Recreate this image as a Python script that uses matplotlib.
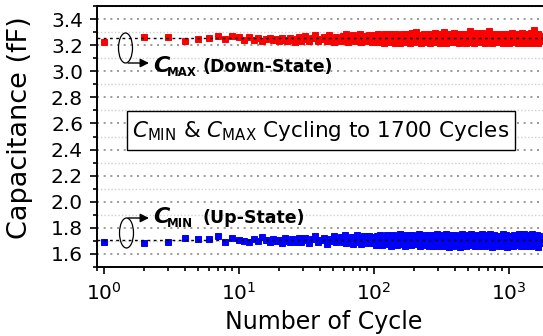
import numpy as np
import matplotlib
matplotlib.use("Agg")
import matplotlib.pyplot as plt
from matplotlib.patches import Ellipse, Rectangle
from matplotlib.ticker import MultipleLocator, FormatStrFormatter

plt.rcParams["font.family"] = ["DejaVu Sans"]
plt.rcParams["mathtext.fontset"] = "dejavusans"

# Cycle numbers at which capacitance was recorded
cycles = (list(range(1, 31)) + list(range(31, 100, 2))
          + list(range(100, 200, 2)) + list(range(200, 400, 4))
          + list(range(400, 800, 8)) + list(range(800, 1701, 15)))

# C_MAX (down-state) capacitance, fF
c_max = [
    # cycles 1-30
    3.222, 3.259, 3.264, 3.233, 3.246, 3.254, 3.267, 3.246, 3.269, 3.264,
    3.241, 3.262, 3.238, 3.251, 3.233, 3.247, 3.258, 3.236, 3.244, 3.229,
    3.253, 3.240, 3.231, 3.256, 3.237, 3.226, 3.249, 3.262, 3.234, 3.245,
    # cycles 31-99
    3.268, 3.231, 3.252, 3.274, 3.228, 3.247, 3.262, 3.235, 3.279, 3.243,
    3.226, 3.266, 3.252, 3.233, 3.271, 3.238, 3.282, 3.225, 3.258, 3.247,
    3.276, 3.229, 3.264, 3.241, 3.285, 3.222, 3.255, 3.270, 3.236, 3.261,
    3.229, 3.278, 3.249, 3.224, 3.267,
    # cycles 100-198
    3.232, 3.279, 3.251, 3.221, 3.286, 3.243, 3.264, 3.226, 3.273, 3.257,
    3.219, 3.282, 3.238, 3.268, 3.247, 3.224, 3.289, 3.255, 3.231, 3.276,
    3.244, 3.262, 3.220, 3.283, 3.249, 3.235, 3.271, 3.258, 3.218, 3.280,
    3.241, 3.266, 3.228, 3.287, 3.252, 3.223, 3.274, 3.246, 3.261, 3.230,
    3.284, 3.239, 3.269, 3.217, 3.256, 3.278, 3.233, 3.291, 3.248, 3.225,
    # cycles 200-396
    3.236, 3.272, 3.298, 3.228, 3.259, 3.281, 3.217, 3.266, 3.245, 3.287,
    3.225, 3.254, 3.276, 3.232, 3.262, 3.216, 3.284, 3.248, 3.271, 3.229,
    3.258, 3.290, 3.222, 3.267, 3.241, 3.279, 3.235, 3.256, 3.219, 3.285,
    3.250, 3.227, 3.273, 3.303, 3.238, 3.263, 3.215, 3.282, 3.246, 3.269,
    3.231, 3.288, 3.253, 3.221, 3.277, 3.242, 3.260, 3.226, 3.292, 3.249,
    # cycles 400-792
    3.279, 3.226, 3.255, 3.288, 3.218, 3.264, 3.242, 3.283, 3.230, 3.270,
    3.252, 3.215, 3.286, 3.238, 3.261, 3.308, 3.224, 3.274, 3.247, 3.219,
    3.281, 3.256, 3.233, 3.290, 3.244, 3.268, 3.221, 3.277, 3.250, 3.228,
    3.294, 3.239, 3.263, 3.216, 3.285, 3.246, 3.272, 3.231, 3.258, 3.312,
    3.223, 3.280, 3.241, 3.266, 3.218, 3.289, 3.253, 3.234, 3.275, 3.248,
    # cycles 800-1700
    3.268, 3.221, 3.284, 3.250, 3.229, 3.276, 3.259, 3.216, 3.289, 3.240,
    3.265, 3.226, 3.282, 3.253, 3.219, 3.273, 3.236, 3.291, 3.247, 3.222,
    3.279, 3.261, 3.230, 3.286, 3.244, 3.214, 3.270, 3.255, 3.228, 3.283,
    3.238, 3.293, 3.249, 3.217, 3.275, 3.262, 3.232, 3.287, 3.243, 3.224,
    3.269, 3.256, 3.215, 3.281, 3.239, 3.295, 3.251, 3.226, 3.277, 3.246,
    3.314, 3.220, 3.266, 3.288, 3.235, 3.258, 3.218, 3.284, 3.248, 3.229,
    3.272,
]

# C_MIN (up-state) capacitance, fF
c_min = [
    # cycles 1-30
    1.695, 1.682, 1.690, 1.725, 1.715, 1.718, 1.741, 1.690, 1.725, 1.708,
    1.700, 1.692, 1.712, 1.698, 1.733, 1.704, 1.688, 1.716, 1.697, 1.709,
    1.686, 1.721, 1.701, 1.693, 1.714, 1.690, 1.706, 1.719, 1.695, 1.710,
    # cycles 31-99
    1.726, 1.684, 1.711, 1.735, 1.692, 1.704, 1.722, 1.680, 1.715, 1.698,
    1.738, 1.688, 1.707, 1.729, 1.694, 1.742, 1.683, 1.718, 1.700, 1.731,
    1.676, 1.712, 1.745, 1.690, 1.724, 1.679, 1.706, 1.736, 1.686, 1.719,
    1.697, 1.740, 1.681, 1.714, 1.728,
    # cycles 100-198
    1.688, 1.727, 1.671, 1.741, 1.702, 1.683, 1.748, 1.716, 1.669, 1.733,
    1.695, 1.720, 1.677, 1.744, 1.708, 1.686, 1.738, 1.664, 1.722, 1.699,
    1.747, 1.679, 1.713, 1.731, 1.690, 1.667, 1.736, 1.704, 1.750, 1.682,
    1.718, 1.693, 1.742, 1.673, 1.726, 1.709, 1.660, 1.739, 1.697, 1.721,
    1.675, 1.745, 1.687, 1.714, 1.730, 1.666, 1.703, 1.749, 1.680, 1.724,
    # cycles 200-396
    1.740, 1.673, 1.718, 1.697, 1.752, 1.662, 1.729, 1.706, 1.684, 1.745,
    1.668, 1.721, 1.693, 1.736, 1.660, 1.711, 1.749, 1.679, 1.727, 1.700,
    1.664, 1.742, 1.687, 1.719, 1.755, 1.671, 1.733, 1.696, 1.658, 1.747,
    1.712, 1.681, 1.739, 1.663, 1.724, 1.702, 1.751, 1.667, 1.716, 1.690,
    1.743, 1.656, 1.728, 1.699, 1.675, 1.746, 1.708, 1.661, 1.735, 1.685,
    # cycles 400-792
    1.749, 1.666, 1.721, 1.694, 1.740, 1.657, 1.713, 1.752, 1.678, 1.731,
    1.700, 1.660, 1.744, 1.689, 1.725, 1.668, 1.754, 1.706, 1.673, 1.738,
    1.696, 1.658, 1.747, 1.716, 1.680, 1.733, 1.663, 1.742, 1.702, 1.671,
    1.750, 1.688, 1.723, 1.659, 1.737, 1.709, 1.676, 1.745, 1.692, 1.718,
    1.665, 1.753, 1.701, 1.684, 1.730, 1.657, 1.714, 1.748, 1.686, 1.726,
    # cycles 800-1700
    1.670, 1.741, 1.697, 1.661, 1.734, 1.710, 1.682, 1.751, 1.664, 1.722,
    1.693, 1.744, 1.657, 1.716, 1.688, 1.739, 1.675, 1.728, 1.705, 1.659,
    1.748, 1.691, 1.719, 1.667, 1.736, 1.700, 1.754, 1.678, 1.726, 1.662,
    1.743, 1.695, 1.713, 1.672, 1.750, 1.685, 1.731, 1.658, 1.721, 1.704,
    1.746, 1.668, 1.737, 1.692, 1.660, 1.729, 1.711, 1.753, 1.676, 1.740,
    1.698, 1.665, 1.733, 1.717, 1.683, 1.747, 1.656, 1.724, 1.707, 1.739,
    1.687,
]

y_ticks = [1.6, 1.8, 2.0, 2.2, 2.4, 2.6, 2.8, 3.0, 3.2, 3.4]

W, H = 543, 336
fig = plt.figure(figsize=(W / 100, H / 100), dpi=100)
ax = fig.add_axes([97 / W, (H - 267) / H, 448 / W, 261 / H])


def fpx(x, y):
    """Figure-fraction coordinates from pixel position (origin top-left)."""
    return (x / W, 1 - y / H)


ax.set_xscale("log")
ax.set_xlim(0.895, 1863)
ax.set_ylim(1.5, 3.5)

# gridlines
ax.yaxis.set_minor_locator(MultipleLocator(0.1))
ax.set_yticks(y_ticks)
ax.yaxis.set_major_formatter(FormatStrFormatter("%.1f"))
ax.grid(True, axis="y", which="major", color="#8a8a8a", ls=(0, (1.2, 2.8)), lw=1.2)
ax.grid(True, axis="y", which="minor", color="#d0d0d0", ls=(0, (1, 1.5)), lw=1.0)
ax.set_axisbelow(True)

ax.plot(cycles, c_max, ls="none", marker="s", ms=3.8, mew=0.7, color="#ff0000", zorder=3)
ax.plot(cycles, c_min, ls="none", marker="s", ms=3.8, mew=0.7, color="#0000ff", zorder=3)

# average levels
ax.axhline(np.mean(c_max), color="black", ls=(0, (2, 2.5)), lw=1.0, zorder=4)
ax.axhline(np.mean(c_min), color="black", ls=(0, (2, 2.5)), lw=1.0, zorder=4)

for s in ax.spines.values():
    s.set_linewidth(1.4)
ax.tick_params(which="both", direction="out", top=False, right=False, width=1.2)
ax.tick_params(which="major", length=5, labelsize=14.5)
ax.tick_params(axis="y", which="major", pad=5)
ax.tick_params(axis="x", which="major", pad=6)
ax.tick_params(which="minor", length=3)

ax.set_xlabel("Number of Cycle", fontsize=17)
ax.xaxis.label.set_va("baseline")
ax.xaxis.set_label_coords(0.5056, (267 - 329) / 261)
ax.set_ylabel("Capacitance (fF)", fontsize=19.5)
ax.yaxis.label.set(va="center", ha="center", rotation_mode="anchor")
ax.yaxis.set_label_coords(-0.172, 0.533)

# series annotations
for (cx, cy, ay, label, sub) in [
    (125.5, 48, 63, "(Down-State)", "MAX"),
    (126.5, 233, 218, "(Up-State)", "MIN"),
]:
    ell = Ellipse((cx / 100, (H - cy) / 100), 14 / 100, 30 / 100,
                  transform=fig.dpi_scale_trans, fill=False, ec="black", lw=0.9)
    fig.add_artist(ell)
    ax.annotate("", xy=fpx(149, ay), xycoords="figure fraction",
                xytext=fpx(128, ay), textcoords="figure fraction",
                arrowprops=dict(arrowstyle="-|>", color="black", lw=1.0,
                                mutation_scale=13, shrinkA=0, shrinkB=0))
    base = 72 if sub == "MAX" else 223
    fig.text(*fpx(153, base), "C", fontsize=16, fontweight="bold",
             fontstyle="italic", ha="left", va="baseline")
    fig.text(*fpx(167, base + 4), sub, fontsize=8.5, fontweight="bold",
             ha="left", va="baseline")
    fig.text(*fpx(202, base), label, fontsize=12.5, fontweight="bold",
             ha="left", va="baseline")

# title box
box = Rectangle(fpx(127, 150), (515 - 127) / W, (150 - 111) / H,
                transform=fig.transFigure, fc="white", ec="black", lw=1.0, zorder=5)
fig.add_artist(box)
fig.text(*fpx(321, 137),
         r"$C_{\mathrm{MIN}}$ & $C_{\mathrm{MAX}}$ Cycling to 1700 Cycles",
         fontsize=15.5, ha="center", va="baseline", zorder=6)

fig.savefig("out.png", dpi=100)
